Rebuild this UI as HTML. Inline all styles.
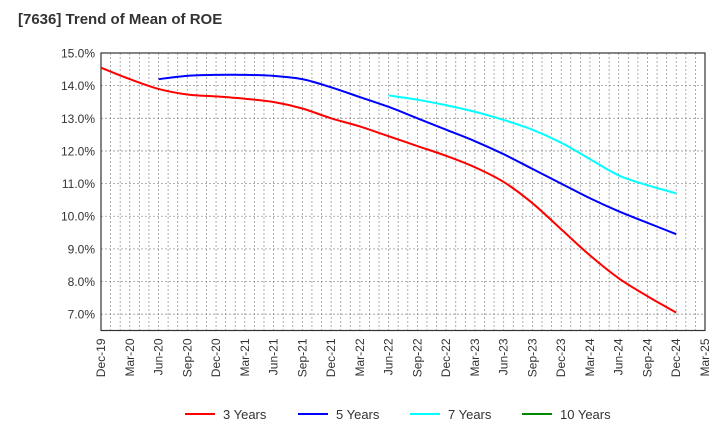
<!DOCTYPE html>
<html><head><meta charset="utf-8"><style>body{margin:0;background:#fff}svg{font-family:"Liberation Sans",sans-serif}</style></head>
<body>
<svg id="c" width="720" height="440">
<text x="18" y="24" font-size="15" font-weight="bold" fill="#333">[7636]  Trend of Mean of ROE</text>
<g id="grid"></g><g id="axes"></g><g id="series"></g><g id="legend"></g>
</svg>
<script>
const categories=["Dec-19","Mar-20","Jun-20","Sep-20","Dec-20","Mar-21","Jun-21","Sep-21","Dec-21","Mar-22","Jun-22","Sep-22","Dec-22","Mar-23","Jun-23","Sep-23","Dec-23","Mar-24","Jun-24","Sep-24","Dec-24","Mar-25"];
const yTicks=[7,8,9,10,11,12,13,14,15];
const s3=[14.55,14.2,13.9,13.73,13.67,13.6,13.5,13.3,13.0,12.75,12.45,12.15,11.85,11.5,11.05,10.4,9.6,8.8,8.1,7.55,7.05];
const s5=[null,null,14.2,14.3,14.33,14.33,14.3,14.2,13.95,13.65,13.35,13.0,12.65,12.3,11.9,11.45,11.0,10.55,10.15,9.8,9.45];
const s7=[null,null,null,null,null,null,null,null,null,null,13.7,13.57,13.4,13.2,12.95,12.65,12.25,11.75,11.25,10.95,10.7];
const s10=[];
const seriesNames=["3 Years","5 Years","7 Years","10 Years"];
const colors=["#f00","#00f","#0ff","#080"];
const L=101,R=705,T=53,B=330.5,ymin=6.5,ymax=15;
const X=i=>L+i*(R-L)/(categories.length-1);
const Y=v=>B-(v-ymin)*(B-T)/(ymax-ymin);
const NS="http://www.w3.org/2000/svg";
function mk(p,t,a){const e=document.createElementNS(NS,t);for(const k in a)e.setAttribute(k,a[k]);document.getElementById(p).appendChild(e);return e;}
for(let m=1;m<(categories.length-1)*3;m++){const x=L+m*(R-L)/((categories.length-1)*3);
const e=mk("grid","line",{x1:x,x2:x,y1:T,y2:B,stroke:"#999","stroke-dasharray":"2,2","stroke-width":0.8});
}
yTicks.forEach(v=>{const e=mk("grid","line",{x1:L,x2:R,y1:Y(v),y2:Y(v),stroke:"#999","stroke-dasharray":"2,2","stroke-width":0.8});
});
const fr=mk("axes","rect",{x:L,y:T,width:R-L,height:B-T,fill:"none",stroke:"#333","stroke-width":1.2});

yTicks.forEach(v=>{const t=mk("axes","text",{x:L-6,y:Y(v)+4.5,"text-anchor":"end","font-size":12,fill:"#333"});t.textContent=v.toFixed(1)+"%";
});
categories.forEach((c,i)=>{const t=mk("axes","text",{transform:`translate(${X(i)+4},${B+8}) rotate(-90)`,"text-anchor":"end","font-size":12,fill:"#333"});t.textContent=c;
});
function smooth(p){let d="M"+p[0][0]+","+p[0][1];for(let i=0;i<p.length-1;i++){const p0=p[i-1]||p[i],p1=p[i],p2=p[i+1],p3=p[i+2]||p2;
d+=` C${p1[0]+(p2[0]-p0[0])/6},${p1[1]+(p2[1]-p0[1])/6} ${p2[0]-(p3[0]-p1[0])/6},${p2[1]-(p3[1]-p1[1])/6} ${p2[0]},${p2[1]}`;}return d;}
[s3,s5,s7,s10].forEach((s,k)=>{const pts=[];s.forEach((v,i)=>{if(v!=null)pts.push([X(i),Y(v)]);});
if(pts.length){const p=mk("series","path",{d:smooth(pts),fill:"none",stroke:colors[k],"stroke-width":2,"stroke-linejoin":"round"});
}});
const lx=[185,298,410,522];
seriesNames.forEach((n,k)=>{const l=mk("legend","line",{x1:lx[k],x2:lx[k]+30,y1:414,y2:414,stroke:colors[k],"stroke-width":2});

const t=mk("legend","text",{x:lx[k]+38,y:419,"font-size":13,fill:"#333"});t.textContent=n;
});
</script>
</body></html>
